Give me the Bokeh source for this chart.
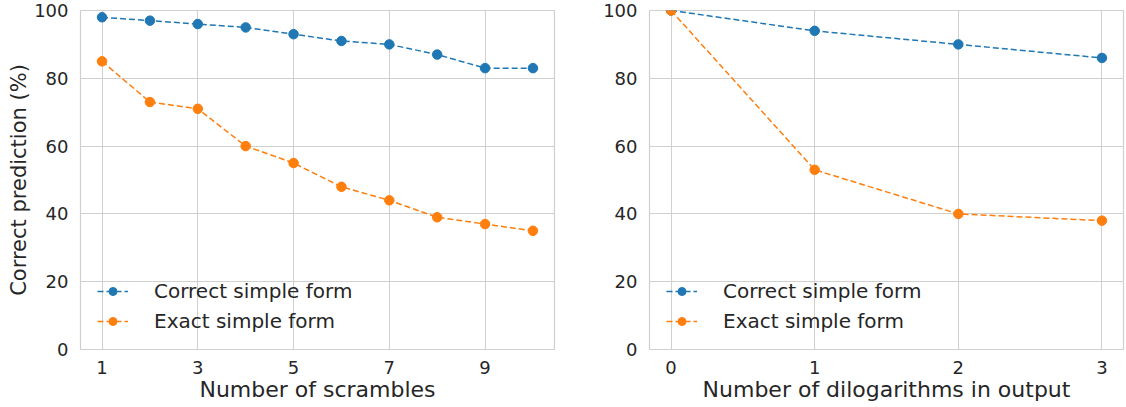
from bokeh.plotting import figure
from bokeh.layouts import row
from bokeh.models import Range1d, FixedTicker, Legend
from bokeh.embed import file_html
from bokeh.resources import INLINE

# Data
scrambles = [1, 2, 3, 4, 5, 6, 7, 8, 9, 10]
scr_correct = [98, 97, 96, 95, 93, 91, 90, 87, 83, 83]
scr_exact = [85, 73, 71, 60, 55, 48, 44, 39, 37, 35]

dilogs = [0, 1, 2, 3]
dil_correct = [100, 94, 90, 86]
dil_exact = [100, 53, 40, 38]

left_ticks = [1, 3, 5, 7, 9]
right_ticks = [0, 1, 2, 3]
y_ticks = [0, 20, 40, 60, 80, 100]

BLUE = "#1f77b4"
ORANGE = "#ff7f0e"
TXT = "#262626"
GRID = "#d0d0d0"
FONT = "DejaVu Sans"


def make_fig(x, yc, ye, xr, xticks, xlabel, ylabel, width, bl, br):
    p = figure(width=width, height=407, output_backend="svg", toolbar_location=None,
               x_range=Range1d(*xr), y_range=Range1d(0, 100),
               min_border_left=bl, min_border_right=br, min_border_top=10, min_border_bottom=58)
    p.background_fill_color = "white"
    p.border_fill_color = "white"
    p.outline_line_color = GRID
    p.outline_line_width = 1.2
    p.xaxis.ticker = FixedTicker(ticks=xticks)
    p.yaxis.ticker = FixedTicker(ticks=y_ticks)
    for ax in (p.xaxis[0], p.yaxis[0]):
        ax.axis_line_color = None
        ax.major_tick_line_color = None
        ax.minor_tick_line_color = None
        ax.major_label_text_font = FONT
        ax.major_label_text_font_size = "18px"
        ax.major_label_text_color = TXT
        ax.axis_label_text_font = FONT
        ax.axis_label_text_font_size = "22px"
        ax.axis_label_text_color = TXT
        ax.axis_label_text_font_style = "normal"
    p.xaxis.major_label_standoff = 5
    p.yaxis.major_label_standoff = 6
    p.xaxis.axis_label = xlabel
    p.xaxis.axis_label_standoff = 0
    if ylabel:
        p.yaxis.axis_label = ylabel
        p.yaxis.axis_label_standoff = 0
        p.yaxis.axis_label_text_font_size = "21px"
    p.xgrid.grid_line_color = GRID
    p.ygrid.grid_line_color = GRID
    p.xgrid.grid_line_width = 1
    p.ygrid.grid_line_width = 1

    l1 = p.line(x, yc, line_color=BLUE, line_width=1.5, line_dash="6 3")
    s1 = p.scatter(x, yc, size=9.5, fill_color=BLUE, line_color=BLUE)
    l2 = p.line(x, ye, line_color=ORANGE, line_width=1.5, line_dash="6 3")
    s2 = p.scatter(x, ye, size=9.5, fill_color=ORANGE, line_color=ORANGE)

    leg = Legend(items=[("Correct simple form", [l1, s1]), ("Exact simple form", [l2, s2])],
                 location=(17, 16), orientation="vertical")
    leg.border_line_color = None
    leg.background_fill_alpha = 0
    leg.margin = 0
    leg.padding = 0
    leg.spacing = 6
    leg.glyph_width = 31
    leg.glyph_height = 20
    leg.label_height = 20
    leg.label_standoff = 26
    leg.label_text_font = FONT
    leg.label_text_font_size = "20px"
    leg.label_text_color = TXT
    p.add_layout(leg, "center")
    return p


p1 = make_fig(scrambles, scr_correct, scr_exact, (0.55, 10.45), left_ticks,
              "Number of scrambles", "Correct prediction (%)", 600, 80, 46)
p2 = make_fig(dilogs, dil_correct, dil_exact, (-0.15, 3.15), right_ticks,
              "Number of dilogarithms in output", None, 525, 49, 2)

layout = row(p1, p2)
open("out.html", "w").write(file_html(layout, INLINE))
